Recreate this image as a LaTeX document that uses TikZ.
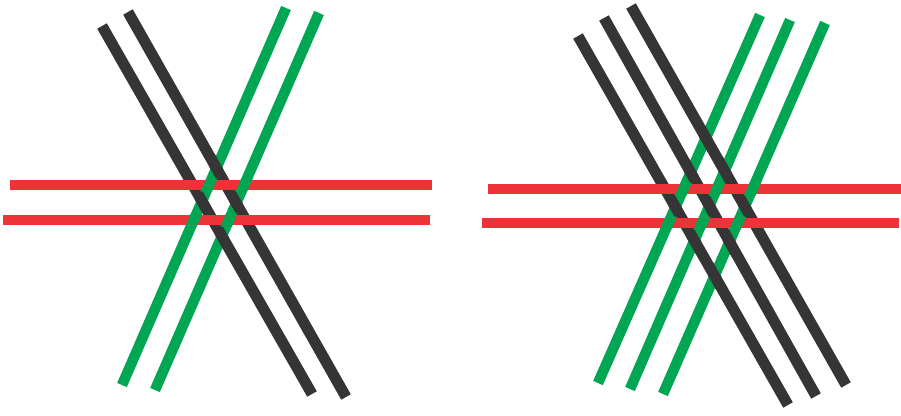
\documentclass[tikz,border=0pt]{standalone}
\usetikzlibrary{calc}
\definecolor{wblack}{RGB}{54,52,53}
\definecolor{wgreen}{RGB}{0,166,81}
\definecolor{wred}{RGB}{237,50,56}
\begin{document}
\begin{tikzpicture}[x=1pt,y=-1pt,
  blk/.style={line width=11pt,draw=wblack},
  grn/.style={line width=10.5pt,draw=wgreen},
  rdd/.style={line width=10.5pt,draw=wred}]
\useasboundingbox (0,0) rectangle (901,415);
% ---- left weave ----
\coordinate (B1a) at (102,26);  \coordinate (B1b) at (312,394);
\coordinate (B2a) at (128,12);  \coordinate (B2b) at (346,397);
\coordinate (G1a) at (286,8);   \coordinate (G1b) at (122,385);
\coordinate (G2a) at (319,13);  \coordinate (G2b) at (155,390);
\coordinate (R1a) at (10,185);  \coordinate (R1b) at (432,185);
\coordinate (R2a) at (3,220);   \coordinate (R2b) at (430,220);
% ---- right weave ----
\coordinate (C1a) at (578,36);  \coordinate (C1b) at (788,405);
\coordinate (C2a) at (604,18);  \coordinate (C2b) at (816,396);
\coordinate (C3a) at (631,6);   \coordinate (C3b) at (846,385);
\coordinate (H1a) at (760,15);  \coordinate (H1b) at (598,383);
\coordinate (H2a) at (790,20);  \coordinate (H2b) at (630,389);
\coordinate (H3a) at (825,23);  \coordinate (H3b) at (663,394);
\coordinate (S1a) at (488,189); \coordinate (S1b) at (901,189);
\coordinate (S2a) at (482,223); \coordinate (S2b) at (899,223);
% 1: black strands
\foreach \s in {B1,B2,C1,C2,C3} \draw[blk] (\s a) -- (\s b);
% 2: green strands
\foreach \s in {G1,G2,H1,H2,H3} \draw[grn] (\s a) -- (\s b);
% 3: black over green
\begin{scope}
  \clip \foreach \g in {G1,G2,H1,H2,H3} {
    ($(\g a)!6.5pt!90:(\g b)$) -- ($(\g a)!6.5pt!-90:(\g b)$) --
    ($(\g b)!6.5pt!90:(\g a)$) -- ($(\g b)!6.5pt!-90:(\g a)$) -- cycle };
  \foreach \s in {B1,B2,C1,C2,C3} \draw[blk] (\s a) -- (\s b);
\end{scope}
% 4: red strands (over black and green)
\foreach \s in {R1,R2,S1,S2} \draw[rdd] (\s a) -- (\s b);
% 5: green over red
\begin{scope}
  \clip \foreach \r in {R1,R2,S1,S2} {
    ($(\r a)+(0,-6.5)$) rectangle ($(\r b)+(0,6.5)$) };
  \foreach \s in {G1,G2,H1,H2,H3} \draw[grn] (\s a) -- (\s b);
\end{scope}
\end{tikzpicture}
\end{document}
